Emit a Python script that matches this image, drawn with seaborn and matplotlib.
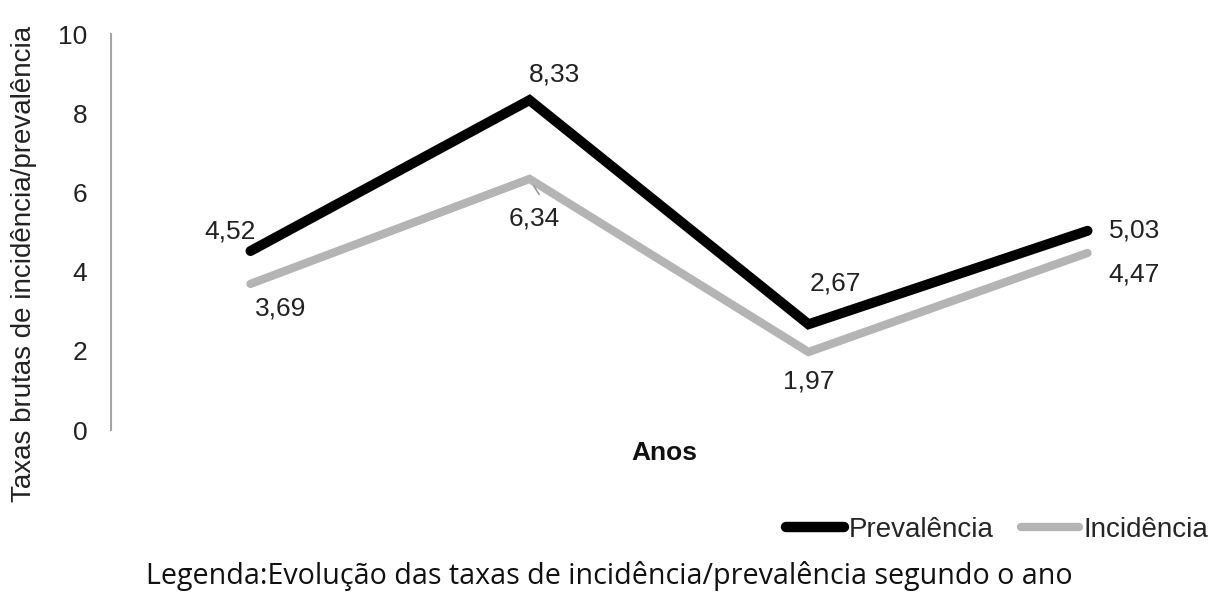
import matplotlib
matplotlib.use("Agg")
import matplotlib.pyplot as plt
import seaborn as sns
import pandas as pd
from matplotlib.lines import Line2D

anos = [0, 1, 2, 3]
prevalencia = [4.52, 8.33, 2.67, 5.03]
incidencia = [3.69, 6.34, 1.97, 4.47]
prev_labels = ["4,52", "8,33", "2,67", "5,03"]
inc_labels = ["3,69", "6,34", "1,97", "4,47"]
series_names = ["Prevalência", "Incidência"]

df = pd.DataFrame({
    "ano": anos * 2,
    "taxa": prevalencia + incidencia,
    "serie": [series_names[0]] * 4 + [series_names[1]] * 4,
})

sns.set_theme(style="white")
plt.rcParams["font.family"] = ["Liberation Sans", "DejaVu Sans"]

fig = plt.figure(figsize=(12.18, 5.96), dpi=100)
ax = fig.add_axes([111 / 1218, 1 - 430 / 596, 1 - 111 / 1218, (430 - 34) / 596])

palette = {"Prevalência": "#000000", "Incidência": "#b4b4b4"}
sns.lineplot(data=df, x="ano", y="taxa", hue="serie", palette=palette, ax=ax,
             sort=False, legend=False, zorder=3)
for line, lw in zip(ax.lines, [7.2, 6.0]):
    line.set_linewidth(lw)
    line.set_solid_capstyle("round")
    line.set_solid_joinstyle("miter")

ax.set_xlim(-0.5, (1218 - 111) / 279 - 0.5)
ax.set_ylim(0, 10)
ax.set_yticks([0, 2, 4, 6, 8, 10])
ax.set_xticks([])
ax.tick_params(axis="y", labelsize=19, length=0, pad=17, colors="#222222")
for s in ["top", "right", "bottom"]:
    ax.spines[s].set_visible(False)
ax.spines["left"].set_color("#a6a6a6")
ax.spines["left"].set_linewidth(1.5)

ax.set_xlabel("Anos", fontsize=19, fontweight="bold", labelpad=8, color="#111111")
ax.set_ylabel("Taxas brutas de incidência/prevalência", fontsize=20, color="#222222")
ax.yaxis.set_label_coords(-(111 - 24) / 1218 / (1 - 111 / 1218), 0.42)
ax.yaxis.label.set_verticalalignment("center")

prev_off = [(-20, 20), (25, 26), (27, 41), (47, 0)]
inc_off = [(30, -25), (5, -40), (0, -30), (47, -22)]
for x, y, t, o in zip(anos, prevalencia, prev_labels, prev_off):
    ax.annotate(t, (x, y), xytext=o, textcoords="offset pixels",
                ha="center", va="center", fontsize=19, color="#222222")
for i, (x, y, t, o) in enumerate(zip(anos, incidencia, inc_labels, inc_off)):
    if i == 1:
        ax.annotate("", (x + 0.01, y - 0.12), xytext=(x + 0.04, y - 0.45),
                    arrowprops=dict(arrowstyle="-", color="#999999", lw=1.2))
    ax.annotate(t, (x, y), xytext=o, textcoords="offset pixels",
                ha="center", va="center", fontsize=19, color="#222222")

handles = [Line2D([0], [0], color=palette[n], lw=7.5 if n == "Prevalência" else 6.0,
                  solid_capstyle="round") for n in series_names]
fig.legend(handles, series_names, loc="center right", bbox_to_anchor=(1.008, 1 - 530 / 596),
           ncol=2, frameon=False, fontsize=20, handlelength=2.1, handletextpad=0.15,
           columnspacing=1.0, borderpad=0.2)

fig.text(0.5, 1 - 576 / 596, "Legenda:Evolução das taxas de incidência/prevalência segundo o ano",
         ha="center", va="center", fontsize=20.6, family=["Open Sans", "DejaVu Sans"],
         color="#111111")

fig.savefig("out.png", dpi=100)
